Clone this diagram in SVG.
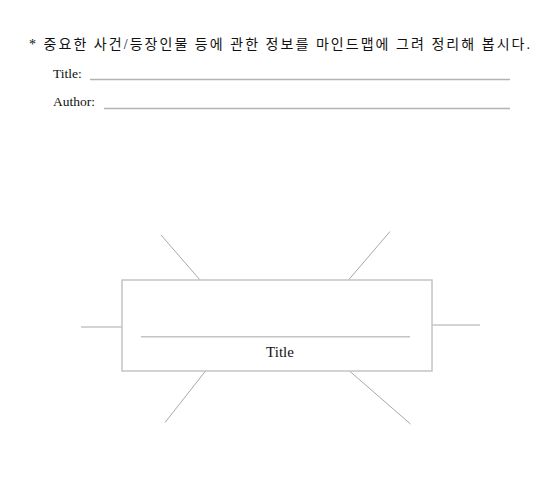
<svg xmlns="http://www.w3.org/2000/svg" width="556" height="486" viewBox="0 0 556 486">
<style>
.hdr{font-family:"Liberation Serif","Noto Sans CJK KR",serif;font-size:14px;fill:#111}
.lbl{font-family:"Liberation Serif",serif;font-size:13.5px;fill:#111}
.ttl{font-family:"Liberation Serif",serif;font-size:15px;fill:#111}
.ul{stroke:#b3b3b3;stroke-width:1.5;fill:none}
.box{stroke:#c4c4c4;stroke-width:1.5;fill:#fff}
.con{stroke:#a8a8a8;stroke-width:1;fill:none}
</style>
<rect width="556" height="486" fill="#fff"/>
<g id="header">
<text class="hdr" x="29" y="49" textLength="501" lengthAdjust="spacing">* 중요한 사건/등장인물 등에 관한 정보를 마인드맵에 그려 정리해 봅시다.</text>
<text class="lbl" x="53" y="78">Title:</text>
<line class="ul" x1="90" y1="79.5" x2="510" y2="79.5"/>
<text class="lbl" x="53" y="106">Author:</text>
<line class="ul" x1="104" y1="108.5" x2="510" y2="108.5"/>
</g>
<g id="connectors">
<line class="con" x1="161" y1="235" x2="200" y2="280"/>
<line class="con" x1="390" y1="231.5" x2="348.5" y2="280"/>
<line class="con" x1="81" y1="327" x2="122" y2="327"/>
<line class="con" x1="432" y1="325" x2="480" y2="325"/>
<line class="con" x1="205.5" y1="371" x2="165" y2="422.5"/>
<line class="con" x1="349.5" y1="371" x2="410.5" y2="424"/>
</g>
<g id="center">
<rect class="box" x="122" y="280" width="310" height="91"/>
<line class="ul" x1="141" y1="336.7" x2="410" y2="336.7" style="stroke:#c4c4c4"/>
<text class="ttl" x="280" y="357" text-anchor="middle">Title</text>
</g>
</svg>
